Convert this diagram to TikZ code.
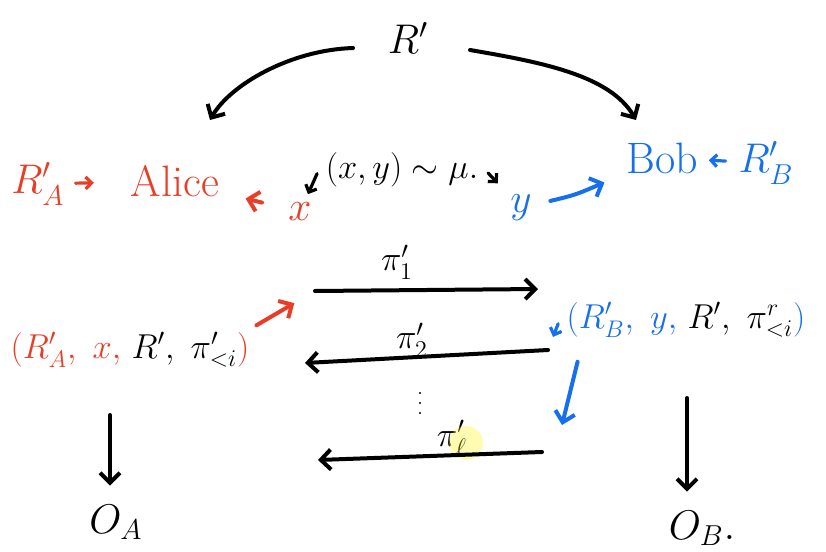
\documentclass[tikz,border=0pt]{standalone}
\usepackage{amsmath}
\usetikzlibrary{arrows.meta}
\definecolor{alicered}{RGB}{232,62,40}
\definecolor{bobblue}{RGB}{22,112,238}
\tikzset{
  hand/.style={line width=2pt, line cap=round,
    -{Straight Barb[length=5pt,width=10pt,line width=2pt]}},
  small hand/.style={line width=1.6pt, line cap=round,
    -{Straight Barb[length=3pt,width=6pt,line width=1.6pt]}},
  big/.style={font=\fontsize{22}{24}\selectfont},
  mid/.style={font=\fontsize{17}{20}\selectfont},
}
\begin{document}
\begin{tikzpicture}[x=0.5pt,y=-0.5pt]
    \useasboundingbox (0,0) rectangle (826,552);
    % shared randomness
    \node[big] (r) at (408,38) {$R'$};
    \coordinate (rl) at (353,48);
    \coordinate (rr) at (470,50);
    \draw[hand] (rl) .. controls (290,50) and (230,85) .. (210,120);
    \draw[hand] (rr) .. controls (540,62) and (610,75) .. (636,120);
    % players
    \node[big,alicered] (ra) at (38,184) {$R_A'$};
    \node[big,alicered] (alice) at (175,181) {Alice};
    \draw[small hand,alicered,shorten <=2pt,shorten >=15pt] (ra) -- (alice);
    \node[big,bobblue] (bob) at (662,158) {Bob};
    \node[big,bobblue] (rb) at (766,163) {$R_B'$};
    \draw[small hand,bobblue,shorten <=3pt,shorten >=2pt] (rb) -- (bob);
    % inputs
    \node[mid] (mu) at (402,170) {$(x,y)\sim\mu.$};
    \node[big,alicered] (x) at (300,212) {$x$};
    \node[big,bobblue] (y) at (521,208) {$y$};
    \draw[small hand,shorten <=2pt,shorten >=1pt] (mu.west) -- (x);
    \draw[small hand,shorten <=2pt,shorten >=4pt] (mu.east) -- (y);
    \draw[hand,alicered,shorten <=10pt,shorten >=10pt] (x) -- (alice);
    \draw[hand,bobblue,shorten <=6pt,shorten >=8pt] (y) .. controls (575,195) .. (bob);
    % messages
    \node[mid] (pi1) at (397,262) {$\pi_1'$};
    \node[mid] (pi2) at (412,340) {$\pi_2'$};
    \node[mid] (pil) at (452,438) {$\pi_\ell'$};
    \fill[yellow,opacity=0.3] (466,443) circle [radius=8.5pt];
    \coordinate (a1) at (315,291);
    \coordinate (b1) at (538,289);
    \coordinate (a2) at (305,363);
    \coordinate (b2) at (548,350);
    \coordinate (a3) at (318,460);
    \coordinate (b3) at (542,452);
    \draw[hand] (a1) -- (b1);
    \draw[hand] (b2) -- (a2);
    \draw[hand] (b3) -- (a3);
    \foreach \d in {393,403,413} {
        \fill (420,\d) circle [radius=0.6pt];
    }
    % states
    \node[mid] (sa) at (130,350)
        {$\textcolor{alicered}{(R_A',\ x,}\ R',\ \pi'_{<i}\textcolor{alicered}{)}$};
    \node[mid] (sb) at (686,320)
        {$\textcolor{bobblue}{(R_B',\ y,}\ R',\ \pi^{r}_{<i}\textcolor{bobblue}{)}$};
    \coordinate (e3) at (562,425);
    \draw[hand,alicered,shorten >=12pt] (sa.north east) -- (a1);
    \draw[small hand,bobblue,shorten <=2pt,shorten >=7pt] (sb.west) -- (b2);
    \draw[hand,bobblue] (sb.south west) ++(18,17) -- (e3);
    % outputs
    \node[big] (oa) at (116,522) {$O_A$};
    \node[big] (ob) at (702,528) {$O_B.$};
    \coordinate (ta) at (110,415);
    \coordinate (tb) at (687,398);
    \draw[hand,shorten >=6pt] (ta) -- (ta |- oa.north);
    \draw[hand,shorten >=6pt] (tb) -- (tb |- ob.north);
\end{tikzpicture}
\end{document}
